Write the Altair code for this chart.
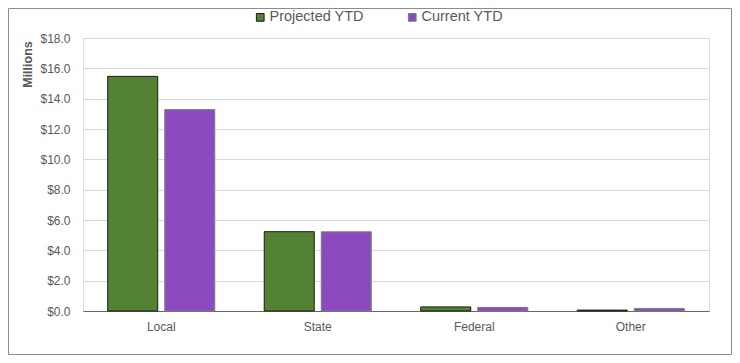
import altair as alt
import pandas as pd

categories = ["Local", "State", "Federal", "Other"]
series = ["Projected YTD", "Current YTD"]
projected = [15.47, 5.23, 0.27, 0.06]
current = [13.28, 5.22, 0.24, 0.17]
y_ticks = [0, 2, 4, 6, 8, 10, 12, 14, 16, 18]

rows = []
for c, p, q in zip(categories, projected, current):
    rows.append({"cat": c, "series": series[0], "value": p})
    rows.append({"cat": c, "series": series[1], "value": q})
df = pd.DataFrame(rows)

FONT = "Liberation Sans, Arial, sans-serif"
W, H = 626, 273
PL, PT, PR, PB = 75, 30, 23, 44

legend = alt.Legend(title=None, orient="none", legendX=170, legendY=-28,
                    direction="horizontal", symbolType="square",
                    symbolSize=60, labelFontSize=14.5, labelFont=FONT,
                    labelColor="#595959", labelOffset=2,
                    columnPadding=41, padding=0, symbolStrokeWidth=1)

bars = alt.Chart(df).mark_bar(strokeWidth=1).encode(
    x=alt.X("cat:N", sort=categories, title=None,
            scale=alt.Scale(paddingInner=0.316, paddingOuter=0.158),
            axis=alt.Axis(labelAngle=0, labelFontSize=12, labelColor="#595959",
                          labelFont=FONT, labelPadding=10, ticks=False,
                          domainColor="#666666", domainWidth=1.2, grid=False)),
    xOffset=alt.XOffset("series:N", sort=series,
                        scale=alt.Scale(paddingInner=0.123, paddingOuter=0)),
    y=alt.Y("value:Q", title="Millions",
            scale=alt.Scale(domain=[0, 18], nice=False),
            axis=alt.Axis(values=y_ticks, format="$.1f", labelFontSize=12,
                          labelColor="#595959", labelFont=FONT, labelPadding=13,
                          ticks=False, domain=False, gridColor="#d9d9d9",
                          titleFont=FONT, titleFontSize=12.5, titleFontWeight="bold",
                          titleColor="#595959", titleX=-56, titleY=26,
                          titleAngle=270, titleAlign="center", titleBaseline="middle")),
    fill=alt.Fill("series:N", sort=series,
                  scale=alt.Scale(domain=series, range=["#548235", "#8B4BBE"]),
                  legend=legend),
    stroke=alt.Stroke("series:N", sort=series,
                      scale=alt.Scale(domain=series, range=["#1a1a1a", "#7f7f7f"]),
                      legend=legend),
)

border = alt.Chart(pd.DataFrame({"a": [0]})).mark_rect(
    fill=None, stroke="#8c8c8c", strokeWidth=1
).encode(
    x=alt.value(-PL + 0.5), x2=alt.value(W + PR - 0.5),
    y=alt.value(-PT + 0.5), y2=alt.value(H + PB - 0.5),
)

chart = alt.layer(bars, border).properties(
    width=W, height=H,
    autosize=alt.AutoSizeParams(type="none"),
    padding={"left": PL, "top": PT, "right": PR, "bottom": PB},
).configure_view(stroke="#8c8c8c", strokeWidth=1).configure(background="white")

chart.save("out.html", embed_options={"renderer": "svg", "actions": False})
